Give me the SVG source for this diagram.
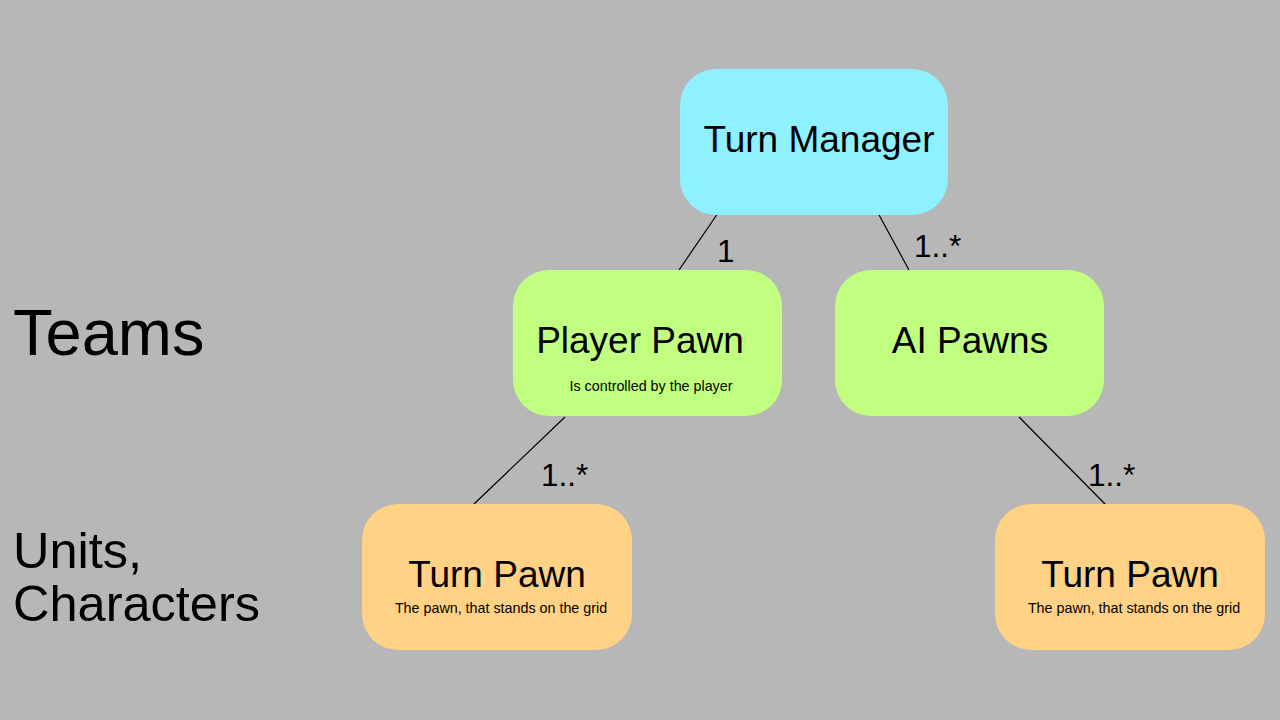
<svg xmlns="http://www.w3.org/2000/svg" width="1280" height="720" viewBox="0 0 1280 720">
<style>
.t{font-family:"Liberation Sans",Arial,sans-serif;fill:#000}
.big{font-size:37px}
.small{font-size:14.3px}
.lbl{font-size:31.5px}
.c{stroke:#000;stroke-width:1.2;fill:none}
</style>
<rect width="1280" height="720" fill="#b7b7b7"/>
<g id="connectors">
<line class="c" x1="718" y1="213" x2="679" y2="270"/>
<line class="c" x1="878" y1="213" x2="909" y2="270"/>
<line class="c" x1="565" y1="417" x2="474" y2="504"/>
<line class="c" x1="1019" y1="417" x2="1105" y2="504"/>
<text class="t lbl" x="717" y="262">1</text>
<text class="t lbl" x="914" y="257">1..*</text>
<text class="t lbl" x="541" y="486">1..*</text>
<text class="t lbl" x="1088" y="486">1..*</text>
</g>
<g id="side-labels">
<text class="t" x="13" y="355" font-size="65">Teams</text>
<text class="t" x="13" y="568" font-size="50.5">Units,</text>
<text class="t" x="13" y="621" font-size="50.5">Characters</text>
</g>
<g id="turn-manager">
<rect x="680" y="69" width="268" height="146" rx="36" fill="#8ff0ff"/>
<text class="t big" x="819" y="152" text-anchor="middle">Turn Manager</text>
</g>
<g id="player-pawn">
<rect x="513" y="270" width="269" height="146" rx="36" fill="#c0ff7f"/>
<text class="t big" x="640" y="353" text-anchor="middle">Player Pawn</text>
<text class="t small" x="651" y="391" text-anchor="middle">Is controlled by the player</text>
</g>
<g id="ai-pawns">
<rect x="835" y="270" width="269" height="146" rx="36" fill="#c0ff7f"/>
<text class="t big" x="970" y="353" text-anchor="middle">AI Pawns</text>
</g>
<g id="turn-pawn-left">
<rect x="362" y="504" width="270" height="146" rx="36" fill="#ffd285"/>
<text class="t big" x="497" y="587" text-anchor="middle">Turn Pawn</text>
<text class="t small" x="501" y="613" text-anchor="middle">The pawn, that stands on the grid</text>
</g>
<g id="turn-pawn-right">
<rect x="995" y="504" width="270" height="146" rx="36" fill="#ffd285"/>
<text class="t big" x="1130" y="587" text-anchor="middle">Turn Pawn</text>
<text class="t small" x="1134" y="613" text-anchor="middle">The pawn, that stands on the grid</text>
</g>
</svg>
